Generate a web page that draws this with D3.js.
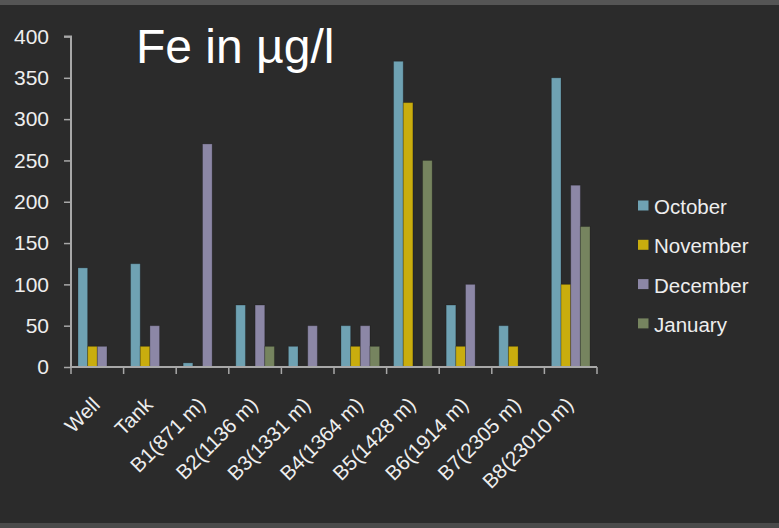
<!DOCTYPE html>
<html>
<head>
<meta charset="utf-8">
<script src="https://cdn.jsdelivr.net/npm/d3@7"></script>
<style>
  html, body { margin: 0; padding: 0; background: #2b2b2b; }
  svg { display: block; }
  text { font-family: "Liberation Sans", Arial, sans-serif; }
</style>
</head>
<body>
<svg id="chart" width="779" height="528"></svg>
<script>
// Iron concentration per sampling point, four monthly campaigns
const categories = ["Well", "Tank", "B1(871 m)", "B2(1136 m)", "B3(1331 m)",
                    "B4(1364 m)", "B5(1428 m)", "B6(1914 m)", "B7(2305 m)", "B8(23010 m)"];
const october  = [120, 125,   5, 75, 25, 50, 370,  75, 50, 350];
const november = [ 25,  25,   0,  0,  0, 25, 320,  25, 25, 100];
const december = [ 25,  50, 270, 75, 50, 50,   0, 100,  0, 220];
const january  = [  0,   0,   0, 25,  0, 25, 250,   0,  0, 170];
const seriesNames  = ["October", "November", "December", "January"];
const seriesColors = ["#6fa2b3", "#c9ad0e", "#8c87a6", "#76845f"];
const yTicks = [0, 50, 100, 150, 200, 250, 300, 350, 400];
const title = "Fe in µg/l";

const seriesValues = [october, november, december, january];

const svg = d3.select("#chart");
const W = 779, H = 528;

// slide frame: lighter strips top and bottom
svg.append("rect").attr("x", 0).attr("y", 0).attr("width", W).attr("height", H).attr("fill", "#2b2b2b");
svg.append("rect").attr("x", 0).attr("y", 0).attr("width", W).attr("height", 5).attr("fill", "#555555");
svg.append("rect").attr("x", 0).attr("y", 523).attr("width", W).attr("height", 5).attr("fill", "#4a4a4a");

const plot = { left: 71, right: 597, top: 36.5, bottom: 367 };

const x = d3.scaleBand().domain(categories).range([plot.left, plot.right]).padding(0);
const xs = d3.scaleBand().domain(seriesNames).range([0, x.bandwidth()])
  .paddingInner(0).paddingOuter(0.72);
const y = d3.scaleLinear().domain([0, 400]).range([plot.bottom, plot.top]);

const axisColor = "#a8a8a8";
const textColor = "#eeeeee";

// bars
const rows = [];
categories.forEach((c, i) => {
  seriesNames.forEach((s, j) => {
    rows.push({ cat: c, series: s, value: seriesValues[j][i], color: seriesColors[j] });
  });
});

svg.append("g").selectAll("rect")
  .data(rows.filter(d => d.value > 0))
  .join("rect")
  .attr("x", d => x(d.cat) + xs(d.series))
  .attr("y", d => y(d.value))
  .attr("width", xs.bandwidth())
  .attr("height", d => y(0) - y(d.value))
  .attr("fill", d => d.color)
  .attr("stroke", "rgba(0,0,0,0.22)")
  .attr("stroke-width", 1);

// y axis
const yAxis = svg.append("g")
  .attr("transform", `translate(${plot.left},0)`)
  .call(d3.axisLeft(y).tickValues(yTicks).tickSize(7).tickPadding(15).tickFormat(d3.format("d")));
yAxis.select(".domain").attr("stroke", axisColor).attr("stroke-width", 2)
  .attr("d", `M-7,${y(400)}H0V${y(0)}`);
yAxis.selectAll(".tick line").attr("stroke", axisColor).attr("stroke-width", 1.5);
yAxis.selectAll(".tick text")
  .attr("fill", textColor)
  .style("font-size", "21px")
  .style("font-family", "'Liberation Sans', Arial, sans-serif");

// x axis: baseline and ticks at category boundaries
const xg = svg.append("g");
xg.append("line")
  .attr("x1", plot.left).attr("x2", plot.right)
  .attr("y1", y(0)).attr("y2", y(0))
  .attr("stroke", axisColor).attr("stroke-width", 2);
const bounds = categories.map(c => x(c)).concat([x.range()[1]]);
xg.selectAll("line.tick")
  .data(bounds)
  .join("line")
  .attr("class", "tick")
  .attr("x1", d => d).attr("x2", d => d)
  .attr("y1", y(0)).attr("y2", y(0) + 7)
  .attr("stroke", axisColor).attr("stroke-width", 1.5);

// rotated category labels
xg.selectAll("text")
  .data(categories)
  .join("text")
  .attr("transform", d => `translate(${x(d) + x.bandwidth() / 2 + 4},${y(0) + 39}) rotate(-45)`)
  .attr("text-anchor", "end")
  .attr("fill", textColor)
  .style("font-size", "20.5px")
  .text(d => d);

// title
svg.append("text")
  .attr("x", 136).attr("y", 63)
  .attr("fill", "#ffffff")
  .style("font-size", "48px")
  .text(title);

// legend
const legend = svg.append("g").attr("transform", "translate(638,0)");
const lg = legend.selectAll("g")
  .data(seriesNames)
  .join("g")
  .attr("transform", (d, i) => `translate(0,${214 + i * 39.3})`);
lg.append("rect")
  .attr("x", 0).attr("y", -13.5)
  .attr("width", 10.5).attr("height", 10)
  .attr("fill", (d, i) => seriesColors[i]);
lg.append("text")
  .attr("x", 16).attr("y", 0)
  .attr("fill", textColor)
  .style("font-size", "20.5px")
  .text(d => d);
</script>
</body>
</html>
